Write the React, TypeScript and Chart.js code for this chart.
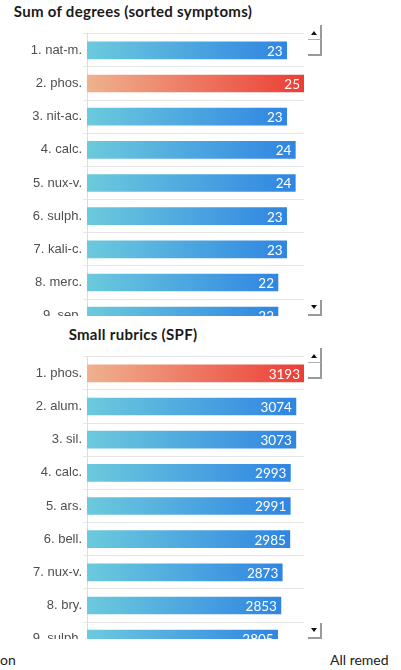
import React, { useEffect, useRef } from "react";
import { Chart, registerables } from "chart.js";

Chart.register(...registerables);

const degreeLabels = ["1. nat-m.", "2. phos.", "3. nit-ac.", "4. calc.", "5. nux-v.", "6. sulph.", "7. kali-c.", "8. merc.", "9. sep."];
const degreeValues = [23, 25, 23, 24, 24, 23, 23, 22, 22];
const degreeHighlight = [false, true, false, false, false, false, false, false, false];

const rubricLabels = ["1. phos.", "2. alum.", "3. sil.", "4. calc.", "5. ars.", "6. bell.", "7. nux-v.", "8. bry.", "9. sulph."];
const rubricValues = [3193, 3074, 3073, 2993, 2991, 2985, 2873, 2853, 2805];
const rubricHighlight = [true, false, false, false, false, false, false, false, false];

const CANVAS_W = 304;
const ROW_H = 34;
const PAD_TOP = 6;

const valueLabelPlugin = {
  id: "valueLabels",
  afterDatasetsDraw(chart: any) {
    const ctx = chart.ctx;
    const meta = chart.getDatasetMeta(0);
    const data = chart.data.datasets[0].data;
    ctx.save();
    ctx.fillStyle = "#ffffff";
    ctx.font = "13.5px Lato, 'DejaVu Sans', sans-serif";
    ctx.textAlign = "right";
    ctx.textBaseline = "middle";
    meta.data.forEach((el: any, i: number) => {
      ctx.fillText(String(data[i]), el.x - 4, el.y + 1);
    });
    ctx.restore();
  },
};

function BarPanel(props: { top: number; title: string; labels: string[]; values: number[]; highlight: boolean[] }) {
  const { top, title, labels, values, highlight } = props;
  const ref = useRef<HTMLCanvasElement | null>(null);
  const canvasH = PAD_TOP + labels.length * ROW_H + 4;

  useEffect(() => {
    if (!ref.current) return;
    const maxV = Math.max(...values);
    const chart = new Chart(ref.current, {
      type: "bar",
      data: {
        labels,
        datasets: [
          {
            data: values,
            barThickness: 17,
            borderWidth: 0,
            backgroundColor: (c: any) => {
              const ch = c.chart;
              const area = ch.chartArea;
              const hot = highlight[c.dataIndex];
              if (!area || c.raw === undefined) return hot ? "#ec5a45" : "#3f95e0";
              const end = ch.scales.x.getPixelForValue(c.raw);
              const g = ch.ctx.createLinearGradient(area.left, 0, end, 0);
              if (hot) {
                g.addColorStop(0, "#efb28e");
                g.addColorStop(1, "#ec3d35");
              } else {
                g.addColorStop(0, "#6ccadd");
                g.addColorStop(1, "#2f85e2");
              }
              return g;
            },
          },
        ],
      },
      options: {
        indexAxis: "y",
        animation: false,
        responsive: false,
        maintainAspectRatio: false,
        layout: { padding: { top: PAD_TOP, right: 0, bottom: 4, left: 0 } },
        plugins: { legend: { display: false }, tooltip: { enabled: false }, title: { display: false } },
        scales: {
          x: { display: false, min: 0, max: maxV },
          y: {
            grid: { color: "#e6e6e6", offset: true, tickLength: 4, drawTicks: true },
            border: { display: true, color: "#dddddd" },
            ticks: { color: "#4f4f4f", padding: 1, font: { family: "'Liberation Sans', Arial, sans-serif", size: 13 } },
            afterFit: (s: any) => {
              s.width = 87;
            },
          },
        },
      },
      plugins: [valueLabelPlugin],
    } as any);
    return () => chart.destroy();
  }, []);

  const line = (l: number, t: number, w: number, h: number, c: string) => (
    <div style={{ position: "absolute", left: l, top: t, width: w, height: h, background: c }} />
  );

  return (
    <>
      <div
        style={{
          position: "absolute",
          left: 0,
          top: top + 3,
          width: 266,
          textAlign: "center",
          font: "bold 15px Lato, 'DejaVu Sans', sans-serif",
          letterSpacing: "0.3px",
          lineHeight: "17px",
          color: "#1a1a1a",
          whiteSpace: "nowrap",
        }}
      >
        {title}
      </div>
      <div style={{ position: "absolute", left: 0, top: top + 25, width: 330, height: 291, overflow: "hidden" }}>
        <canvas ref={ref} width={CANVAS_W} height={canvasH} style={{ display: "block", width: CANVAS_W, height: canvasH }} />
      </div>
      {/* scroll up button */}
      {line(320, top + 25, 2, 31, "#9a9a9a")}
      {line(308, top + 39, 13, 1, "#b0b0b0")}
      {line(308, top + 54, 14, 2, "#9a9a9a")}
      <div
        style={{
          position: "absolute",
          left: 311,
          top: top + 31,
          width: 0,
          height: 0,
          borderLeft: "3.5px solid transparent",
          borderRight: "3.5px solid transparent",
          borderBottom: "4px solid #111",
        }}
      />
      {/* scroll down button */}
      {line(320, top + 300, 2, 16, "#9a9a9a")}
      {line(308, top + 314, 14, 2, "#9a9a9a")}
      <div
        style={{
          position: "absolute",
          left: 311,
          top: top + 305,
          width: 0,
          height: 0,
          borderLeft: "3.5px solid transparent",
          borderRight: "3.5px solid transparent",
          borderTop: "4px solid #111",
        }}
      />
    </>
  );
}

export default function App() {
  return (
    <div style={{ position: "absolute", left: 0, top: 0, width: 401, height: 670, overflow: "hidden", background: "#fff" }}>
      <BarPanel top={0} title="Sum of degrees (sorted symptoms)" labels={degreeLabels} values={degreeValues} highlight={degreeHighlight} />
      <BarPanel top={323} title="Small rubrics (SPF)" labels={rubricLabels} values={rubricValues} highlight={rubricHighlight} />
      <div style={{ position: "absolute", left: 0, top: 651, font: "14px Lato, sans-serif", lineHeight: "17px", color: "#222" }}>on</div>
      <div style={{ position: "absolute", left: 330, top: 651, font: "14px Lato, sans-serif", lineHeight: "17px", color: "#222", whiteSpace: "nowrap" }}>
        All remed
      </div>
    </div>
  );
}
